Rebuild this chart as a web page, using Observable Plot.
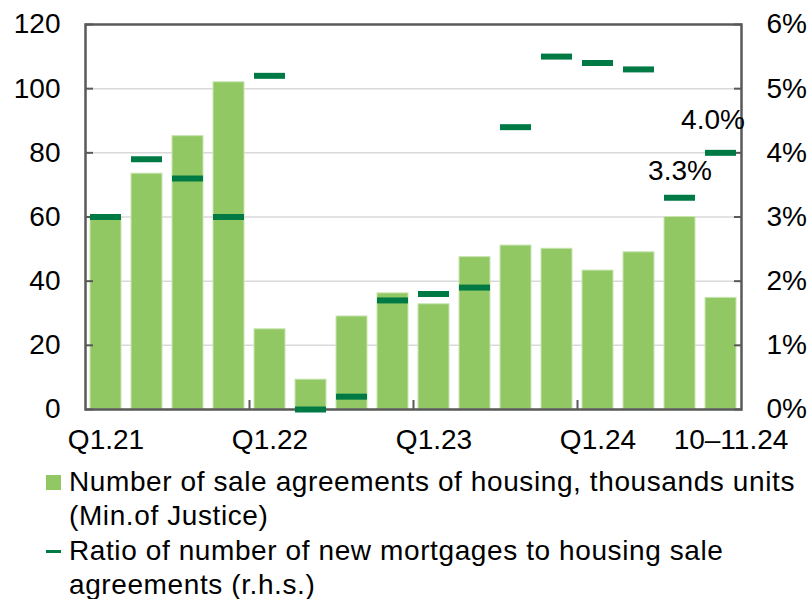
<!DOCTYPE html>
<html>
<head>
<meta charset="utf-8">
<script src="https://cdn.jsdelivr.net/npm/d3@7"></script>
<script src="https://cdn.jsdelivr.net/npm/@observablehq/plot@0.6"></script>
<style>
  html, body { margin: 0; padding: 0; background: #fff; }
  body { width: 810px; height: 599px; overflow: hidden; font-family: "Liberation Sans", Arial, sans-serif; }
  #chart { position: relative; }
  .legend { position: absolute; left: 0; top: 460px; font-size: 28px; letter-spacing: 0.6px; color: #000; line-height: 34.3px; white-space: nowrap; }
  .item { position: relative; padding-left: 69px; }
  .sw { position: absolute; left: 46px; }
</style>
</head>
<body>
<div id="chart"></div>
<div class="legend">
  <div class="item" style="margin-top:5px"><span class="sw" style="top:10px;width:15px;height:15px;background:#92C864"></span>Number of sale agreements of housing, thousands units<br>(Min.of Justice)</div>
  <div class="item"><span class="sw" style="top:16px;width:15px;height:3px;background:#007A45"></span>Ratio of number of new mortgages to housing sale<br>agreements (r.h.s.)</div>
</div>
<script>
const periods = ["Q1.21","Q2.21","Q3.21","Q4.21","Q1.22","Q2.22","Q3.22","Q4.22","Q1.23","Q2.23","Q3.23","Q4.23","Q1.24","Q2.24","Q3.24","10–11.24"];
const agreements = [60, 73.5, 85.2, 102, 25, 9.3, 29, 36.2, 32.8, 47.5, 51.1, 50.1, 43.3, 49, 60, 34.8];
const ratio = [3.0, 3.9, 3.6, 3.0, 5.2, 0.0, 0.2, 1.7, 1.8, 1.9, 4.4, 5.5, 5.4, 5.3, 3.3, 4.0];
const shownLabels = ["Q1.21","Q1.22","Q1.23","Q1.24","10–11.24"];
const leftTicks = [0, 20, 40, 60, 80, 100, 120];
const rightTicks = [0, 1, 2, 3, 4, 5, 6];

const k = 20; // 6% on right axis = 120 on left axis
const data = periods.map((p, i) => ({period: p, value: agreements[i], ratio: ratio[i]}));

const chart = Plot.plot({
  width: 810,
  height: 460,
  marginLeft: 85,
  marginRight: 69,
  marginTop: 24,
  marginBottom: 51,
  style: {fontFamily: "Liberation Sans, Arial, sans-serif", fontSize: "28px", color: "#000", background: "#fff"},
  x: {domain: periods, paddingInner: 0.24, paddingOuter: 0.12},
  y: {domain: [0, 120]},
  marks: [
    Plot.ruleY(leftTicks.filter(d => d > 0 && d < 120), {stroke: "#d9d9d9", strokeWidth: 1.5}),
    Plot.barY(data, {x: "period", y: "value", fill: "#92C864", stroke: "#c9e5b2", strokeWidth: 1}),
    Plot.axisY({ticks: leftTicks, tickSize: 0, tickPadding: 25, fontSize: 28, anchor: "left", label: null}),
    Plot.axisY({ticks: leftTicks, tickSize: -8, text: null, anchor: "left", stroke: "#595959", strokeWidth: 2, label: null}),
    Plot.axisY({ticks: rightTicks.map(d => d * k), tickSize: 0, tickPadding: 25, anchor: "right", tickFormat: d => (d / k) + "%", fontSize: 28, label: null}),
    Plot.axisY({ticks: rightTicks.map(d => d * k), tickSize: -8, text: null, anchor: "right", stroke: "#595959", strokeWidth: 2, label: null}),
    Plot.axisX({ticks: shownLabels.slice(0, 4), tickSize: 0, tickPadding: 20, fontSize: 28, label: null}),
    Plot.axisX({ticks: ["10–11.24"], tickSize: 0, tickPadding: 20, fontSize: 28, label: null, dx: 10}),
    Plot.ruleX(["Q1.22","Q1.23","Q1.24"], {x: d => d, dx: -20.5, y1: 0, y2: 2.8, stroke: "#595959", strokeWidth: 2}),
    Plot.frame({stroke: "#595959", strokeWidth: 2.5}),
    Plot.tickY(data, {x: "period", y: d => d.ratio * k, stroke: "#007A45", strokeWidth: 6}),
    Plot.text(data.filter(d => d.period === "Q3.24"), {x: "period", y: d => d.ratio * k, text: d => d.ratio.toFixed(1) + "%", dy: -27, fontSize: 28}),
    Plot.text(data.filter(d => d.period === "10–11.24"), {x: "period", y: d => d.ratio * k, text: d => d.ratio.toFixed(1) + "%", dy: -33, dx: -8, fontSize: 28})
  ]
});
document.getElementById("chart").appendChild(chart);
</script>
</body>
</html>
